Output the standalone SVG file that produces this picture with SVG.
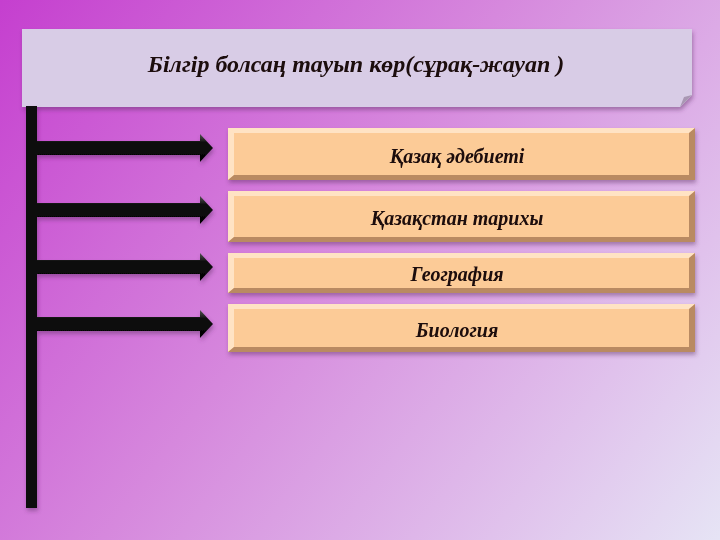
<svg xmlns="http://www.w3.org/2000/svg" width="720" height="540" viewBox="0 0 720 540">
<defs>
<linearGradient id="bg" x1="0" y1="0" x2="720" y2="540" gradientUnits="userSpaceOnUse">
<stop offset="0" stop-color="#c53fcf"/>
<stop offset="0.45" stop-color="#d688dd"/>
<stop offset="1" stop-color="#e6e4f5"/>
</linearGradient>
<linearGradient id="shaft" x1="0" y1="0" x2="0" y2="1">
<stop offset="0" stop-color="#555"/>
<stop offset="0.3" stop-color="#111"/>
<stop offset="1" stop-color="#000"/>
</linearGradient>
<filter id="sh" x="-5%" y="-20%" width="110%" height="150%">
<feDropShadow dx="1" dy="3" stdDeviation="2" flood-color="#5a2a60" flood-opacity="0.45"/>
</filter>
</defs>
<style>
.lbl{font-family:"Liberation Serif","DejaVu Serif",serif;font-weight:bold;font-style:italic;fill:#1a0a0a;text-anchor:middle}
.face{fill:#fccb97}
.hi{fill:#ffe3c4}
.lo{fill:#b98a62}
</style>
<rect width="720" height="540" fill="url(#bg)"/>

<g id="title" filter="url(#sh)">
<path d="M22 29 H692 V95 L680 107 H22 Z" fill="#d8cce6"/>
<path d="M692 95 L680 107 L684 97 Z" fill="#a997b3"/>
<text class="lbl" x="356" y="72" font-size="24">Білгір болсаң тауып көр(сұрақ-жауап )</text>
</g>

<g id="connectors" filter="url(#sh)">
<rect x="26" y="106" width="11" height="402" fill="#0c0c0c"/>
<path d="M37 141 H200 V134 L213 148 L200 162 V155 H37 Z" fill="url(#shaft)"/>
<path d="M37 203 H200 V196 L213 210 L200 224 V217 H37 Z" fill="url(#shaft)"/>
<path d="M37 260 H200 V253 L213 267 L200 281 V274 H37 Z" fill="url(#shaft)"/>
<path d="M37 317 H200 V310 L213 324 L200 338 V331 H37 Z" fill="url(#shaft)"/>
</g>

<g id="box1" filter="url(#sh)">
<rect x="228" y="128" width="467" height="52" class="face"/>
<path d="M228 128 H695 L689 133 H234 V175 L228 180 Z" class="hi"/>
<path d="M695 128 V180 H228 L234 175 H689 V133 Z" class="lo"/>
<text class="lbl" x="457" y="163" font-size="20">Қазақ әдебиеті</text>
</g>
<g id="box2" filter="url(#sh)">
<rect x="228" y="191" width="467" height="51" class="face"/>
<path d="M228 191 H695 L689 196 H234 V237 L228 242 Z" class="hi"/>
<path d="M695 191 V242 H228 L234 237 H689 V196 Z" class="lo"/>
<text class="lbl" x="457" y="225" font-size="20">Қазақстан тарихы</text>
</g>
<g id="box3" filter="url(#sh)">
<rect x="228" y="253" width="467" height="40" class="face"/>
<path d="M228 253 H695 L689 258 H234 V288 L228 293 Z" class="hi"/>
<path d="M695 253 V293 H228 L234 288 H689 V258 Z" class="lo"/>
<text class="lbl" x="457" y="281" font-size="20">География</text>
</g>
<g id="box4" filter="url(#sh)">
<rect x="228" y="304" width="467" height="48" class="face"/>
<path d="M228 304 H695 L689 309 H234 V347 L228 352 Z" class="hi"/>
<path d="M695 304 V352 H228 L234 347 H689 V309 Z" class="lo"/>
<text class="lbl" x="457" y="337" font-size="20">Биология</text>
</g>
</svg>
